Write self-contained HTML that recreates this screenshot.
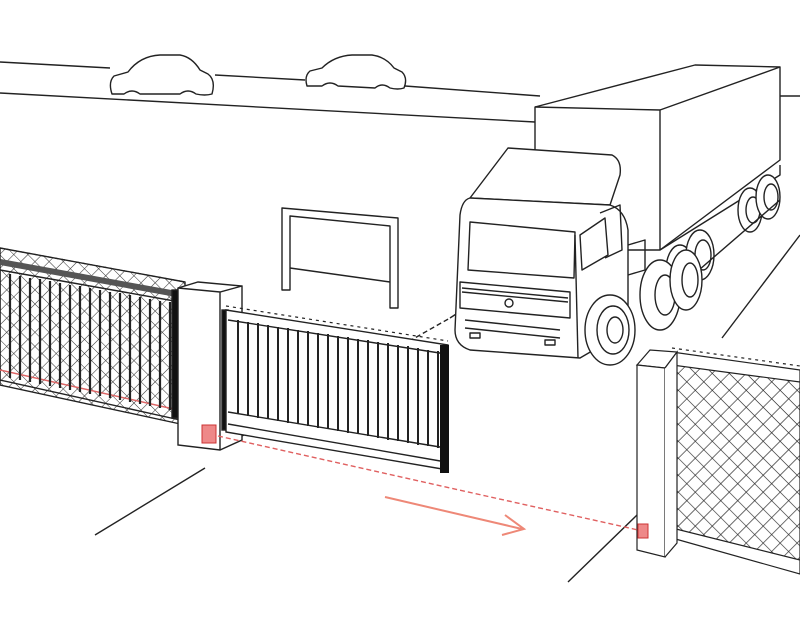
<!DOCTYPE html>
<html><head><style>body{margin:0;background:#fff}svg{display:block}</style></head>
<body>
<svg width="800" height="640" viewBox="0 0 800 640" xmlns="http://www.w3.org/2000/svg">
<defs>
<pattern id="chain" width="12" height="12" patternUnits="userSpaceOnUse" patternTransform="rotate(45)">
<rect width="12" height="12" fill="#fff"/><path d="M0 0H12V12" fill="none" stroke="#222" stroke-width="1.3"/>
</pattern>
<pattern id="chainL" width="10" height="10" patternUnits="userSpaceOnUse" patternTransform="rotate(45)">
<rect width="10" height="10" fill="#fff"/><path d="M0 0H10V10" fill="none" stroke="#333" stroke-width="1.1"/>
</pattern>
</defs>
<g fill="none" stroke="#222" stroke-width="1.4" stroke-linejoin="round">
<path d="M0 62 L110 68 M215 75 L305 80 M405 86 L540 96"/>
<path d="M0 93 L535 122"/>
<path d="M780 96 L800 96"/>
<!-- cars -->
<path d="M112 94 Q108 82 114 76 L128 72 Q140 56 160 55 L180 55 Q192 57 200 70 L208 74 Q216 80 212 94 Q205 96 196 94 Q188 88 180 94 L140 94 Q132 88 124 94 Z" fill="#fff"/>
<path d="M307 86 Q304 76 310 71 L322 68 Q334 56 352 55 L372 55 Q386 57 394 68 L402 72 Q408 78 404 88 Q398 90 390 88 Q382 82 375 88 L338 86 Q330 80 322 86 Z" fill="#fff"/>
<path d="M95 535 L205 468"/>
<path d="M235 440 L450 318" stroke-dasharray="5 3"/>
<path d="M450 318 L470 305"/>
<path d="M568 582 L637 515"/>
<path d="M722 338 L800 235"/>
<path d="M282 208 L398 218 L398 308 L390 308 L390 226 L290 216 L290 290 L282 290 Z" fill="#fff"/>
<path d="M290 268 L390 282"/>
<path d="M535 107 L695 65 L780 67 L780 160 L660 250 L535 250 Z" fill="#fff"/>
<path d="M535 107 L660 110 L660 250 M660 110 L780 67"/>
<path d="M660 250 L780 175 L780 165"/>
<ellipse cx="680" cy="270" rx="14" ry="25" fill="#fff"/><ellipse cx="683" cy="270" rx="8" ry="15"/>
<ellipse cx="700" cy="255" rx="14" ry="25" fill="#fff"/><ellipse cx="703" cy="255" rx="8" ry="15"/>
<ellipse cx="750" cy="210" rx="12" ry="22" fill="#fff"/><ellipse cx="753" cy="210" rx="7" ry="13"/>
<ellipse cx="768" cy="197" rx="12" ry="22" fill="#fff"/><ellipse cx="771" cy="197" rx="7" ry="13"/>
<path d="M640 300 L670 295 L780 200" />
<ellipse cx="660" cy="295" rx="20" ry="35" fill="#fff"/><ellipse cx="665" cy="295" rx="10" ry="20"/>
<ellipse cx="686" cy="280" rx="16" ry="30" fill="#fff"/><ellipse cx="690" cy="280" rx="8" ry="17"/>
<path d="M508 148 L612 155 Q622 160 620 175 L610 205 L470 198 Z" fill="#fff"/>
<path d="M470 198 L610 205 Q625 210 628 230 L628 330 L580 358 L470 350 Q455 345 455 330 L460 215 Q462 200 470 198 Z" fill="#fff"/>
<path d="M470 222 L575 232 L574 278 L468 270 Z"/>
<path d="M580 235 L605 218 L608 255 L582 270 Z"/>
<path d="M600 213 L620 205 L622 250 L605 258"/>
<path d="M460 282 L570 292 L570 318 L460 308 Z"/>
<path d="M462 288 L568 298 M462 292 L568 302"/>
<circle cx="509" cy="303" r="4"/>
<path d="M465 320 L560 330 M465 328 L560 338"/>
<rect x="470" y="333" width="10" height="5"/><rect x="545" y="340" width="10" height="5"/>
<path d="M575 235 L578 358"/>
<ellipse cx="610" cy="330" rx="25" ry="35" fill="#fff"/><ellipse cx="613" cy="330" rx="16" ry="24"/><ellipse cx="615" cy="330" rx="8" ry="13"/>
<path d="M628 245 L645 240 L645 270 L628 275"/>
<path d="M0 248 L185 282 L185 425 L0 385 Z" fill="url(#chainL)"/>
<path d="M0 262 L182 295" stroke-width="6" stroke="#555"/>
<path d="M0 270 L180 302 L180 420 L0 380 Z" fill="none"/>
<path d="M0 370 L178 410" stroke="#d66" stroke-width="1.5"/>
<path d="M0 248 L185 282" stroke-width="1.2" stroke-dasharray="3 4"/>
</g>
<g stroke="#222" stroke-width="2.2">
<path d="M10 274 V378 M20 276 V380 M30 278 V382 M40 279 V384 M50 281 V386 M60 283 V388 M70 285 V390 M80 286 V392 M90 288 V394 M100 290 V396 M110 292 V398 M120 293 V400 M130 295 V402 M140 297 V404 M150 299 V406 M160 301 V408 M170 302 V410"/>
</g>
<g fill="none" stroke="#222" stroke-width="1.4">
<rect x="172" y="290" width="7" height="128" fill="#111"/>
<path d="M178 288 L198 282 L242 286 L242 440 L220 450 L178 445 Z" fill="#fff"/>
<path d="M178 288 L220 292 L242 286 M220 292 L220 450"/>
<rect x="222" y="310" width="6" height="120" fill="#111"/>
<path d="M226 310 L448 345 L448 470 L226 432 Z" fill="#fff"/>
<path d="M228 320 L446 354 M228 412 L446 448 M228 424 L446 462"/>
</g>
<g stroke="#222" stroke-width="2">
<path d="M238 320 V414 M248 322 V416 M258 323 V418 M268 325 V419 M278 327 V421 M288 328 V423 M298 330 V424 M308 331 V426 M318 333 V428 M328 334 V429 M338 336 V431 M348 337 V433 M358 339 V434 M368 340 V436 M378 342 V438 M388 343 V440 M398 345 V441 M408 346 V443 M418 348 V445 M428 350 V446 M438 351 V448"/>
</g>
<rect x="440" y="345" width="9" height="128" fill="#111"/>
<g fill="none" stroke="#222" stroke-width="1.2">
<path d="M226 310 L448 345" stroke-dasharray="3 4" transform="translate(0,-4)"/>
<path d="M672 360 L800 378 L800 570 L672 532 Z" fill="url(#chain)"/>
<path d="M672 352 L800 370 L800 382 L672 365 Z M672 528 L800 560 L800 574 L672 538 Z" fill="#fff"/>
<path d="M672 352 L800 370" stroke-dasharray="3 4" transform="translate(0,-4)"/>
<path d="M637 365 L650 350 L677 352 L665 368 Z" fill="#fff"/>
<path d="M637 365 L665 368 L665 557 L637 550 Z" fill="#fff"/>
<path d="M665 368 L677 352 L677 543 L665 557" fill="#fff"/>
</g>
<path d="M218 436 L638 530" stroke="#e06060" stroke-width="1.4" stroke-dasharray="5 3" fill="none"/>
<path d="M385 497 L522 529 M505 515 L524 529 L502 535" stroke="#ee8877" stroke-width="2" fill="none"/>
<rect x="202" y="425" width="14" height="18" fill="#e88" stroke="#c33"/>
<rect x="638" y="524" width="10" height="14" fill="#e88" stroke="#c33"/>
</svg>
</body></html>
